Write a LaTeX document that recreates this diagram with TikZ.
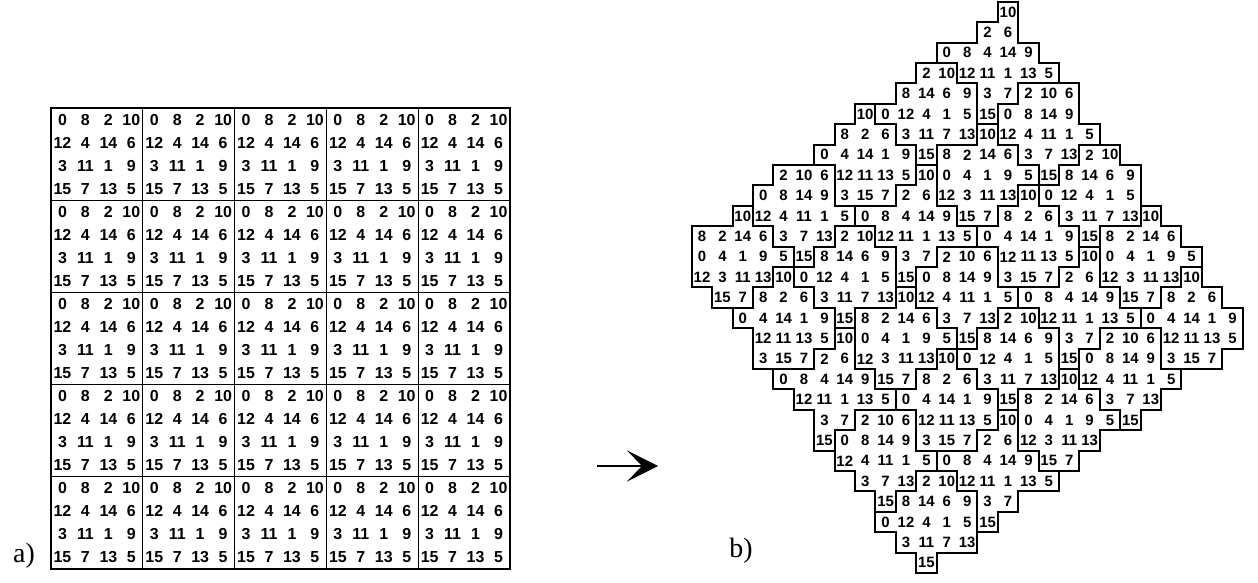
\documentclass[tikz,border=0pt]{standalone}
\usepackage{fontspec}
\setmainfont{Liberation Serif}
\newfontfamily\numfont{Liberation Sans}
\usetikzlibrary{arrows.meta}
\def\rsvals{{0,8,2,10,12,4,14,6,3,11,1,9,15,7,13,5}}
\newcommand\rscheck[4]{%
  \ifcsname rsB/#1/#2\endcsname
    \ifnum\csname rsB/#1/#2\endcsname=\B\relax\else\draw[bline] #3 -- #4;\fi
  \else
    \draw[bline] #3 -- #4;
  \fi}
\tikzset{
  anum/.style={font=\numfont\bfseries\fontsize{16}{17}\selectfont, inner sep=0pt},
  bnum/.style={font=\numfont\bfseries\fontsize{15}{16}\selectfont, inner sep=0pt},
  aline/.style={line width=1.3bp},
  bline/.style={line width=2bp, line cap=rect},
  lbl/.style={font=\fontsize{28}{30}\selectfont, inner sep=0pt},
  arr/.style={line width=2bp, -{Stealth[length=31bp, width=31bp, inset=15bp]}}
}
\begin{document}
\begin{tikzpicture}[x=1bp,y=-1bp]
\useasboundingbox (0,0) rectangle (1258,583);
% ---------- a) ----------
\foreach \r in {0,...,19}{\foreach \c in {0,...,19}{
  \pgfmathtruncatemacro\idx{mod(\r,4)*4+mod(\c,4)}
  \pgfmathtruncatemacro\v{\rsvals[\idx]}
  \node[anum] (a-\r-\c) at ({51+(\c+0.5)*22.95},{108+(\r+0.5)*23.05}) {\v};
}}
\draw[aline] (51,108) rectangle (510,569);
\foreach \k in {1,...,4}{
  \draw[aline] ({51+\k*91.8},108) -- ({51+\k*91.8},569);
  \draw[aline] (51,{108+\k*92.2}) -- (510,{108+\k*92.2});
}
\node[lbl] (la) at (24,556) {a)};
% ---------- arrow ----------
\coordinate (arrS) at (597,466);
\coordinate (arrE) at (658,466);
\draw[arr] (arrS) -- (arrE);
% ---------- b) ----------
\foreach \r in {0,...,19}{\foreach \c in {0,...,19}{
  \pgfmathtruncatemacro\X{floor((4*\c+3*\r+0.5)/5)-15}
  \pgfmathtruncatemacro\Y{floor((4*\r-3*\c+1.5)/5)+12}
  \pgfmathtruncatemacro\B{int(\r/4)*5+int(\c/4)}
  \expandafter\xdef\csname rsB/\X/\Y\endcsname{\B}
}}
\foreach \r in {0,...,19}{\foreach \c in {0,...,19}{
  \pgfmathtruncatemacro\X{floor((4*\c+3*\r+0.5)/5)-15}
  \pgfmathtruncatemacro\Y{floor((4*\r-3*\c+1.5)/5)+12}
  \pgfmathtruncatemacro\B{int(\r/4)*5+int(\c/4)}
  \pgfmathtruncatemacro\idx{mod(\r,4)*4+mod(\c,4)}
  \pgfmathtruncatemacro\v{\rsvals[\idx]}
  \pgfmathsetmacro\cx{1008+20.4*\X}
  \pgfmathsetmacro\cy{12+20.4*\Y}
  \pgfmathsetmacro\xl{\cx-10.2}
  \pgfmathsetmacro\xr{\cx+10.2}
  \pgfmathsetmacro\yt{\cy-10.2}
  \pgfmathsetmacro\yb{\cy+10.2}
  \pgfmathtruncatemacro\Xm{\X-1}
  \pgfmathtruncatemacro\Xp{\X+1}
  \pgfmathtruncatemacro\Ym{\Y-1}
  \pgfmathtruncatemacro\Yp{\Y+1}
  \node[bnum] (b-\r-\c) at (\cx,\cy) {\v};
  \rscheck{\Xm}{\Y}{(\xl,\yt)}{(\xl,\yb)}
  \rscheck{\Xp}{\Y}{(\xr,\yt)}{(\xr,\yb)}
  \rscheck{\X}{\Ym}{(\xl,\yt)}{(\xr,\yt)}
  \rscheck{\X}{\Yp}{(\xl,\yb)}{(\xr,\yb)}
}}
\node[lbl] (lb) at (741,551) {b)};
\end{tikzpicture}
\end{document}
